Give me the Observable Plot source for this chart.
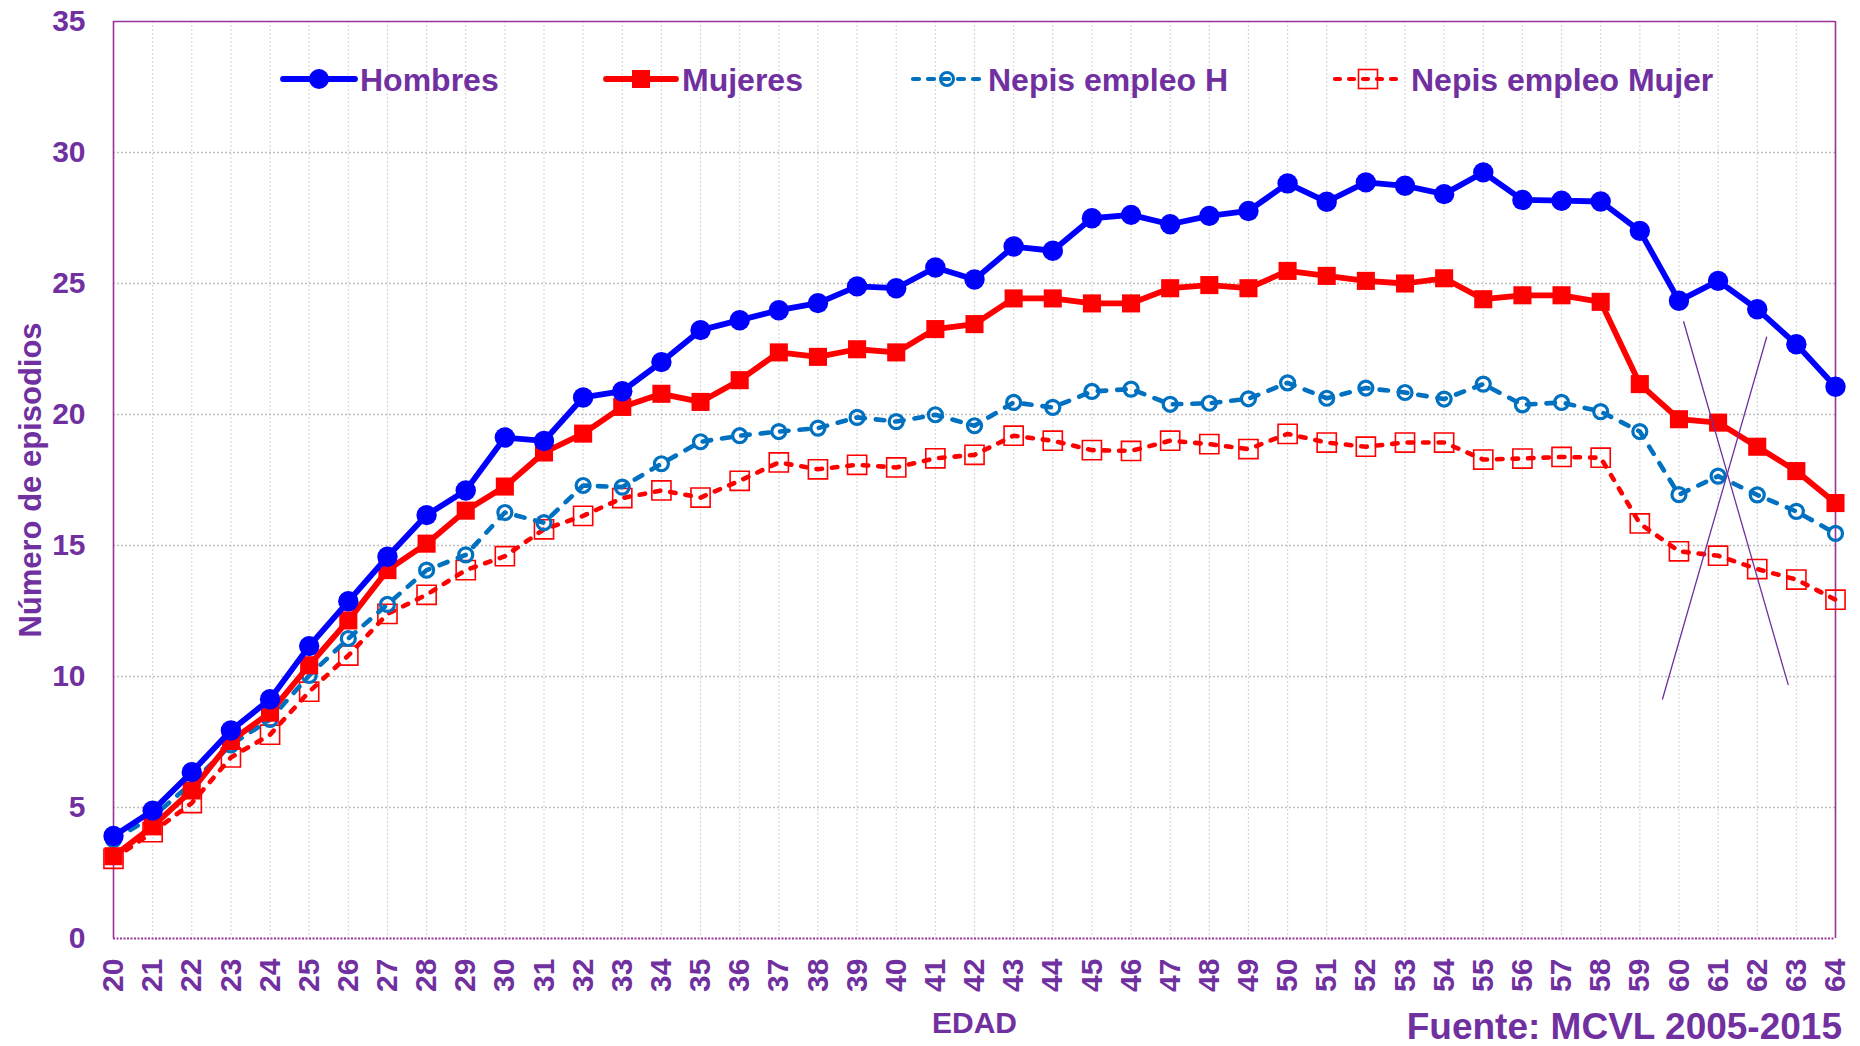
<!DOCTYPE html>
<html>
<head>
<meta charset="utf-8">
<script src="https://cdn.jsdelivr.net/npm/d3@7"></script>
<script src="https://cdn.jsdelivr.net/npm/@observablehq/plot@0.6"></script>
<style>
  html, body { margin: 0; padding: 0; background: #fff; }
  #wrap { position: relative; width: 1860px; height: 1046px; overflow: hidden; font-family: "Liberation Sans", Arial, sans-serif; }
  #legend { position: absolute; left: 0; top: 0; }
  #source { position: absolute; right: 18px; top: 1008px; font-size: 37px; font-weight: bold; color: #7030A0; line-height: 1; white-space: nowrap; }
</style>
</head>
<body>
<div id="wrap">
  <div id="chart"></div>
  <svg id="legend" width="1860" height="130"></svg>
  <div id="source">Fuente: MCVL 2005-2015</div>
</div>
<script>
const ages = [20,21,22,23,24,25,26,27,28,29,30,31,32,33,34,35,36,37,38,39,40,41,42,43,44,45,46,47,48,49,50,51,52,53,54,55,56,57,58,59,60,61,62,63,64];
const yTicks = [0,5,10,15,20,25,30,35];

const hombres = [3.91,4.88,6.35,7.94,9.13,11.16,12.87,14.57,16.16,17.10,
  19.12,18.99,20.65,20.89,22.00,23.22,23.60,23.98,24.25,24.89,
  24.82,25.61,25.15,26.41,26.25,27.49,27.62,27.26,27.58,27.77,
  28.82,28.12,28.86,28.73,28.41,29.24,28.19,28.16,28.13,27.01,
  24.34,25.10,24.02,22.68,21.06];
const mujeres = [3.14,4.28,5.65,7.54,8.62,10.43,12.14,14.06,15.07,16.33,
  17.25,18.55,19.27,20.29,20.79,20.48,21.31,22.37,22.20,22.49,
  22.37,23.26,23.45,24.43,24.43,24.24,24.24,24.82,24.94,24.82,
  25.48,25.29,25.10,25.00,25.20,24.40,24.55,24.55,24.30,21.16,
  19.82,19.69,18.77,17.84,16.62];
const nepisH = [3.77,4.64,5.94,7.39,8.36,10.04,11.45,12.75,14.06,14.64,
  16.26,15.87,17.29,17.23,18.12,18.96,19.19,19.35,19.48,19.89,
  19.73,19.99,19.57,20.46,20.27,20.88,20.97,20.39,20.43,20.60,
  21.21,20.62,21.01,20.84,20.59,21.16,20.37,20.46,20.11,19.35,
  16.94,17.65,16.93,16.30,15.46];
const nepisM = [3.04,4.06,5.17,6.91,7.78,9.42,10.80,12.39,13.12,14.06,
  14.59,15.62,16.13,16.81,17.10,16.83,17.47,18.17,17.91,18.08,
  17.98,18.33,18.46,19.19,19.00,18.64,18.61,19.00,18.87,18.68,
  19.26,18.93,18.77,18.93,18.93,18.28,18.32,18.38,18.35,15.84,
  14.78,14.61,14.10,13.70,12.93];

// annotation cross (two thin purple strokes)
const crossA = [{age: 59.58, v: 9.14}, {age: 62.24, v: 22.95}];
const crossB = [{age: 60.12, v: 23.54}, {age: 62.79, v: 9.69}];

const seriesNames = ["Hombres", "Mujeres", "Nepis empleo H", "Nepis empleo Mujer"];

const toRows = vals => ages.map((a, i) => ({age: a, v: vals[i]}));
const rH = toRows(hombres), rM = toRows(mujeres), rNH = toRows(nepisH), rNM = toRows(nepisM);

const PURPLE = "#7030A0";
const FRAME = "#993399";

const chart = Plot.plot({
  width: 1860,
  height: 1046,
  marginLeft: 113,
  marginRight: 25,
  marginTop: 21,
  marginBottom: 108,
  style: {fontFamily: "'Liberation Sans', Arial, sans-serif", fontSize: "30px", fontWeight: "bold", color: PURPLE, background: "white", overflow: "visible"},
  x: {type: "linear", domain: [20, 64]},
  y: {domain: [0, 35]},
  marks: [
    Plot.ruleX(ages, {stroke: "#d9d9d9", strokeWidth: 1.2, strokeDasharray: "2,2"}),
    Plot.ruleY(yTicks.filter(d => d > 0 && d < 35), {stroke: "#bfbfbf", strokeWidth: 1.4, strokeDasharray: "2,2"}),
    Plot.ruleY([35], {stroke: FRAME, strokeWidth: 1.6}),
    Plot.ruleX([20, 64], {stroke: FRAME, strokeWidth: 1.6}),
    Plot.ruleY([0], {stroke: FRAME, strokeWidth: 1.8, strokeDasharray: "2,1.5"}),
    Plot.axisX(ages, {tickRotate: -90, tickSize: 0, tickPadding: 20, tickFormat: d => String(d), fontSize: 30, fontWeight: "bold", label: "EDAD", labelAnchor: "center", labelArrow: "none", labelOffset: 94}),
    Plot.axisY(yTicks, {tickSize: 0, tickPadding: 28, fontSize: 30, fontWeight: "bold", label: "Número de episodios", labelAnchor: "center", labelArrow: "none", labelOffset: 95}),
    // Nepis empleo Mujer
    Plot.line(rNM, {x: "age", y: "v", stroke: "#FF0000", strokeWidth: 4.6, strokeDasharray: "5.5,10", strokeLinecap: "round"}),
    Plot.dot(rNM, {x: "age", y: "v", symbol: "square", r: 10.8, stroke: "#FF0000", strokeWidth: 1.6, fill: "none"}),
    // Nepis empleo H
    Plot.line(rNH, {x: "age", y: "v", stroke: "#0070C0", strokeWidth: 4.6, strokeDasharray: "8.5,11", strokeLinecap: "round"}),
    Plot.dot(rNH, {x: "age", y: "v", r: 7, stroke: "#0070C0", strokeWidth: 3.2, fill: "none"}),
    // Mujeres
    Plot.line(rM, {x: "age", y: "v", stroke: "#FF0000", strokeWidth: 5.8}),
    Plot.dot(rM, {x: "age", y: "v", symbol: "square", r: 10.2, fill: "#FF0000"}),
    // Hombres
    Plot.line(rH, {x: "age", y: "v", stroke: "#0000FF", strokeWidth: 5.8}),
    Plot.dot(rH, {x: "age", y: "v", r: 10.2, fill: "#0000FF"}),
    // cross annotation
    Plot.line(crossA, {x: "age", y: "v", stroke: PURPLE, strokeWidth: 1.3}),
    Plot.line(crossB, {x: "age", y: "v", stroke: PURPLE, strokeWidth: 1.3})
  ]
});
document.getElementById("chart").appendChild(chart);
d3.select(chart).selectAll('g[aria-label="y-axis label"] text').style("font-size", "31px");

// Legend (inside plot frame, drawn as overlay)
const legendItems = [
  {name: seriesNames[0], color: "#0000FF", x0: 283, x1: 355, mx: 319, text: 360, kind: "dotFill", width: 5.8, dash: null},
  {name: seriesNames[1], color: "#FF0000", x0: 606, x1: 676, mx: 641, text: 682, kind: "squareFill", width: 5.8, dash: null},
  {name: seriesNames[2], color: "#0070C0", x0: 913, x1: 982, mx: 947, text: 988, kind: "dotOpen", width: 4.2, dash: "6,9"},
  {name: seriesNames[3], color: "#FF0000", x0: 1335, x1: 1402, mx: 1368, text: 1411, kind: "squareOpen", width: 4.2, dash: "5,9"}
];
const lg = d3.select("#legend");
const LY = 79;
for (const it of legendItems) {
  const g = lg.append("g");
  g.append("line").attr("x1", it.x0).attr("x2", it.x1).attr("y1", LY).attr("y2", LY)
    .attr("stroke", it.color).attr("stroke-width", it.width).attr("stroke-linecap", "round")
    .attr("stroke-dasharray", it.dash);
  if (it.kind === "dotFill") g.append("circle").attr("cx", it.mx).attr("cy", LY).attr("r", 10).attr("fill", it.color);
  if (it.kind === "dotOpen") g.append("circle").attr("cx", it.mx).attr("cy", LY).attr("r", 6.5).attr("fill", "none").attr("stroke", it.color).attr("stroke-width", 3);
  if (it.kind === "squareFill") g.append("rect").attr("x", it.mx - 9).attr("y", LY - 9).attr("width", 18).attr("height", 18).attr("fill", it.color);
  if (it.kind === "squareOpen") g.append("rect").attr("x", it.mx - 9.5).attr("y", LY - 9.5).attr("width", 19).attr("height", 19).attr("fill", "none").attr("stroke", it.color).attr("stroke-width", 1.6);
  g.append("text").attr("x", it.text).attr("y", LY).attr("dy", "0.36em")
    .attr("fill", PURPLE).attr("font-size", 32).attr("font-weight", "bold")
    .attr("font-family", "'Liberation Sans', Arial, sans-serif").text(it.name);
}
</script>
</body>
</html>
